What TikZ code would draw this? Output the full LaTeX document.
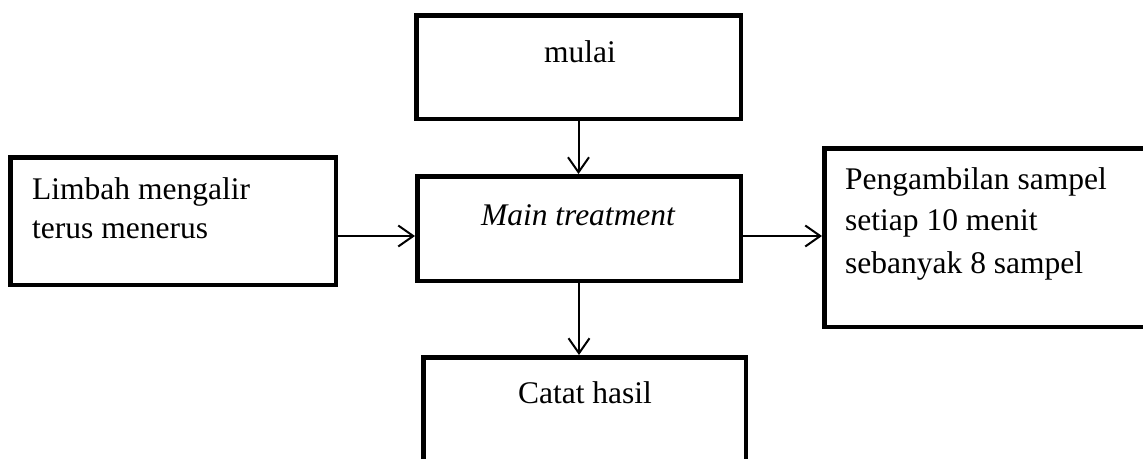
\documentclass[tikz,border=0pt]{standalone}
\usepackage{fontspec}
\setmainfont{Liberation Serif}
\usetikzlibrary{arrows.meta}
\begin{document}
\begin{tikzpicture}[x=1pt,y=-1pt,
  box/.style={draw,line width=4.5pt,rectangle,inner sep=0pt},
  arr/.style={line width=2pt,-{Straight Barb[length=15pt,width=21pt,line width=2pt]}},
  txt/.style={inner sep=0pt,font=\fontsize{31.5}{41}\selectfont}]
\clip (0,0) rectangle (1143,458);
\fill[white] (0,0) rectangle (1143,458);
% boxes
\node[box,minimum width=324.5pt,minimum height=103.5pt] (mulai) at (578.5,67) {};
\node[box,minimum width=323.5pt,minimum height=104.5pt] (main) at (579,228.5) {};
\node[box,minimum width=325.5pt,minimum height=127.5pt] (limbah) at (173,221) {};
\node[box,minimum width=333.5pt,minimum height=178.5pt] (peng) at (991,237.5) {};
\node[box,minimum width=322.5pt,minimum height=120.5pt] (catat) at (584.5,417.5) {};
% texts
\node[txt,anchor=base] (tmulai) at (580,62) {mulai};
\node[txt,anchor=base] (tmain) at (578,225) {\itshape Main treatment};
\node[txt,anchor=base] (tcatat) at (585,403) {Catat hasil};
\node[txt,anchor=base west] (tl1) at (32,199) {Limbah mengalir};
\node[txt,anchor=base west] (tl2) at (32,238) {terus menerus};
\node[txt,anchor=base west] (tp1) at (845,189) {Pengambilan sampel};
\node[txt,anchor=base west] (tp2) at (845,230) {setiap 10 menit};
\node[txt,anchor=base west] (tp3) at (845,273) {sebanyak 8 sampel};
% arrows
\draw[arr] (mulai.south) -- (mulai.south |- main.north);
\draw[arr] (main.south) -- (main.south |- catat.north);
\draw[arr] ([yshift=-15pt]limbah.east) -- ([yshift=-15pt]limbah.east -| main.west);
\draw[arr] ([yshift=-7.5pt]main.east) -- ([yshift=-7.5pt]main.east -| peng.west);
\end{tikzpicture}
\end{document}
